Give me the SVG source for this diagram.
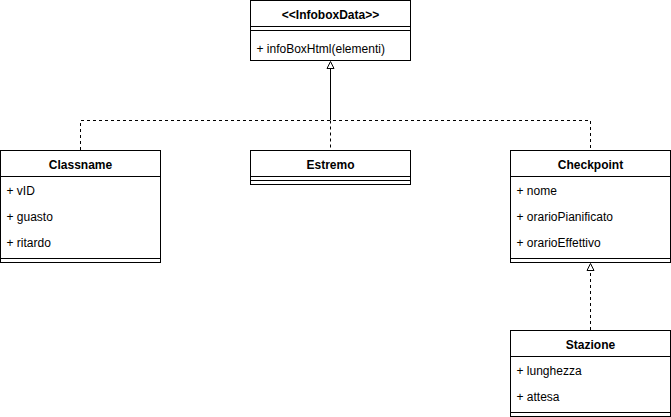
<svg xmlns="http://www.w3.org/2000/svg" width="671" height="417" viewBox="0 0 671 417">
<defs>
<style>
.box{fill:#fff;stroke:#000;stroke-width:1}
.ln{stroke:#000;stroke-width:1;fill:none}
.dash{stroke:#000;stroke-width:1;fill:none;stroke-dasharray:3 3}
.t{font-family:"Liberation Sans",Arial,Helvetica,sans-serif;font-size:12px;fill:#000}
.h{font-weight:bold;text-anchor:middle}
</style>
</defs>
<rect width="671" height="417" fill="#fff"/>
<g id="connectors">
<path class="ln" d="M330.5,120 L330.5,69"/>
<path d="M330.5,61.5 L327,68.5 L334,68.5 Z" fill="#fff" stroke="#000"/>
<path class="dash" d="M80.5,150 L80.5,120.5 L590.5,120.5 L590.5,150"/>
<path class="dash" d="M330.5,120.5 L330.5,150"/>
<path class="dash" d="M590.5,330 L590.5,271"/>
<path d="M590.5,263.5 L587,270.5 L594,270.5 Z" fill="#fff" stroke="#000"/>
</g>
<g id="InfoboxData">
<rect class="box" x="250.5" y="0.5" width="160" height="60"/>
<line class="ln" x1="250.5" y1="26.5" x2="410.5" y2="26.5"/>
<line class="ln" x1="250.5" y1="30.5" x2="410.5" y2="30.5"/>
<text class="t h" x="330.5" y="19">&lt;&lt;InfoboxData&gt;&gt;</text>
<text class="t" x="256.5" y="53">+ infoBoxHtml(elementi)</text>
</g>
<g id="Classname">
<rect class="box" x="0.5" y="150.5" width="160" height="112"/>
<line class="ln" x1="0.5" y1="176.5" x2="160.5" y2="176.5"/>
<line class="ln" x1="0.5" y1="258.5" x2="160.5" y2="258.5"/>
<text class="t h" x="80.5" y="169">Classname</text>
<text class="t" x="6.5" y="195">+ vID</text>
<text class="t" x="6.5" y="221">+ guasto</text>
<text class="t" x="6.5" y="247">+ ritardo</text>
</g>
<g id="Estremo">
<rect class="box" x="250.5" y="150.5" width="160" height="34"/>
<line class="ln" x1="250.5" y1="176.5" x2="410.5" y2="176.5"/>
<line class="ln" x1="250.5" y1="180.5" x2="410.5" y2="180.5"/>
<text class="t h" x="330.5" y="169">Estremo</text>
</g>
<g id="Checkpoint">
<rect class="box" x="510.5" y="150.5" width="160" height="112"/>
<line class="ln" x1="510.5" y1="176.5" x2="670.5" y2="176.5"/>
<line class="ln" x1="510.5" y1="258.5" x2="670.5" y2="258.5"/>
<text class="t h" x="590.5" y="169">Checkpoint</text>
<text class="t" x="516.5" y="195">+ nome</text>
<text class="t" x="516.5" y="221">+ orarioPianificato</text>
<text class="t" x="516.5" y="247">+ orarioEffettivo</text>
</g>
<g id="Stazione">
<rect class="box" x="510.5" y="330.5" width="160" height="86"/>
<line class="ln" x1="510.5" y1="356.5" x2="670.5" y2="356.5"/>
<line class="ln" x1="510.5" y1="412.5" x2="670.5" y2="412.5"/>
<text class="t h" x="590.5" y="349">Stazione</text>
<text class="t" x="516.5" y="375">+ lunghezza</text>
<text class="t" x="516.5" y="401">+ attesa</text>
</g>
</svg>
